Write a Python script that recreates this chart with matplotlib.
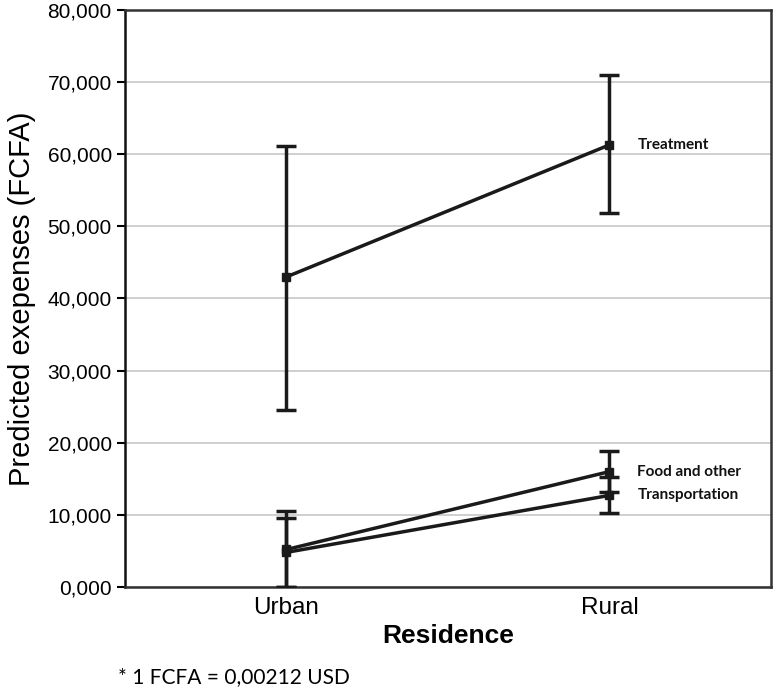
import numpy as np
import matplotlib.pyplot as plt
from matplotlib.ticker import FuncFormatter

residence = ['Urban', 'Rural']

treatment = [43000, 61300]
treatment_lo = [24600, 51800]
treatment_hi = [61200, 71000]

food = [5200, 16000]
food_lo = [0, 13200]
food_hi = [10500, 18800]

transport = [4800, 12700]
transport_lo = [0, 10200]
transport_hi = [9600, 15200]

series = [
    ('Treatment', treatment, treatment_lo, treatment_hi),
    ('Food and other', food, food_lo, food_hi),
    ('Transportation', transport, transport_lo, transport_hi),
]

plt.rcParams['font.family'] = ['Liberation Sans', 'DejaVu Sans']

fig = plt.figure(figsize=(7.74, 6.9), dpi=100)
ax = fig.add_axes([0.1615, 0.1493, 0.8346, 0.8362])

x = np.arange(len(residence))
for name, vals, lo, hi in series:
    vals = np.array(vals)
    yerr = [vals - np.array(lo), np.array(hi) - vals]
    ax.errorbar(x, vals, yerr=yerr, color='#1a1a1a', lw=2.5, marker='s',
                ms=6, capsize=7, capthick=2.5, elinewidth=2.5, zorder=3)
    ax.annotate(name, xy=(x[-1], vals[-1]), xytext=(20, 0),
                textcoords='offset points', va='center', ha='left',
                fontsize=11, fontweight='bold', family=['Lato', 'DejaVu Sans'],
                color='#111111')

ax.set_xlim(-0.5, 1.5)
ax.set_ylim(0, 80000)
ax.set_yticks(np.arange(0, 80001, 10000))
ax.yaxis.set_major_formatter(FuncFormatter(
    lambda v, p: '{:d},{:03d}'.format(int(v) // 1000, int(v) % 1000)))
ax.set_xticks(x)
ax.set_xticklabels(residence)
ax.tick_params(axis='y', labelsize=15, length=6, width=1.5, direction='out')
ax.tick_params(axis='x', labelsize=17.5, length=0, pad=7)
ax.grid(axis='y', color='#cccccc', lw=1.3, zorder=0)
ax.set_axisbelow(True)

for side in ['left', 'right', 'top', 'bottom']:
    ax.spines[side].set_linewidth(1.8)
    ax.spines[side].set_color('#333333')
ax.spines['left'].set_color('#111111')

ax.set_ylabel('Predicted exepenses (FCFA)', fontsize=21, labelpad=8)
ax.set_xlabel('Residence', fontsize=19, fontweight='bold', labelpad=4)

fig.text(0.152, 0.004, '* 1 FCFA = 0,00212 USD', fontsize=15,
         family=['Lato', 'DejaVu Sans'], ha='left', va='bottom')

fig.savefig('out.png', dpi=100)
